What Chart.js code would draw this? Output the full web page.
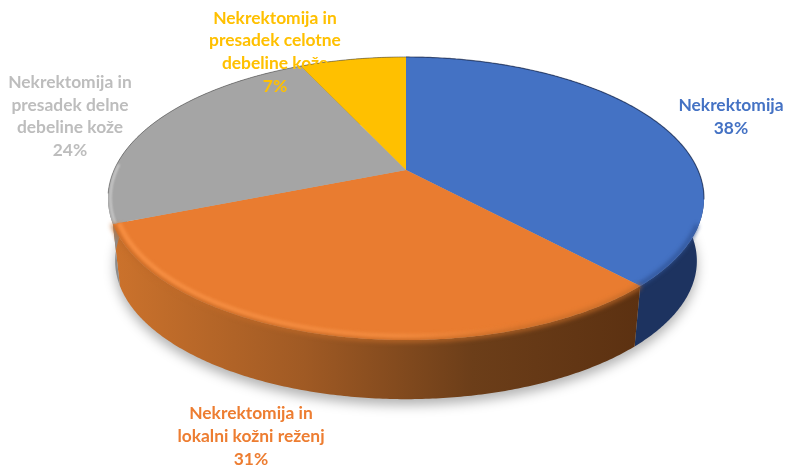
<!DOCTYPE html>
<html>
<head>
<meta charset="utf-8">
<style>html,body{margin:0;padding:0;background:#fff}canvas{display:block}</style>
<script src="https://cdn.jsdelivr.net/npm/chart.js@4"></script>
</head>
<body>
<canvas id="pie" width="786" height="465"></canvas>
<script>
// Share of each treatment, in percent
const categories = [
  ['Nekrektomija'],
  ['Nekrektomija in', 'lokalni kožni reženj'],
  ['Nekrektomija in', 'presadek delne', 'debeline kože'],
  ['Nekrektomija in', 'presadek celotne', 'debeline kože']
];
const shares = [38, 31, 24, 7];
const faceColors = ['#4472c4', '#e97c30', '#a5a5a5', '#ffc000'];
const textColors = ['#4472c4', '#ed7d31', '#bdbdbd', '#ffc000'];

// Centre of each label block on the page
const labelCentres = [[731, 117], [251, 436.5], [70, 116.5], [275, 52]];
const labelLeading = 22.7;

// Tilted disc: a homography from the unit circle to the page
const apex = { x: 406, y: 170 };
const tilt = { k: 0.2014, A: 291.9, B: 135.8 };
const rimCentreY = 198.5;
const baseCentreY = 261;
const baseScale = 0.976;

function rimPoint(a, r = 1) {
  const u = r * Math.cos(a), v = r * Math.sin(a), d = 1 - tilt.k * v;
  return [apex.x + tilt.A * u / d, apex.y + tilt.B * v / d];
}
function basePoint(a) {
  const p = rimPoint(a);
  return [apex.x + (p[0] - apex.x) * baseScale, baseCentreY + (p[1] - rimCentreY) * baseScale];
}
function samples(a0, a1) {
  const n = Math.max(2, Math.ceil(Math.abs(a1 - a0) / 0.01));
  return Array.from({ length: n + 1 }, (_, i) => a0 + (a1 - a0) * i / n);
}
function trace(ctx, pts, moveFirst = true) {
  pts.forEach((p, i) => (i === 0 && moveFirst ? ctx.moveTo(p[0], p[1]) : ctx.lineTo(p[0], p[1])));
}
function strokeArc(ctx, a0, a1, r, width, style, blur) {
  ctx.save();
  if (blur) ctx.filter = `blur(${blur}px)`;
  ctx.lineWidth = width;
  ctx.strokeStyle = style;
  ctx.lineCap = 'butt';
  ctx.beginPath();
  trace(ctx, samples(a0, a1).map(a => rimPoint(a, r)));
  ctx.stroke();
  ctx.restore();
}

const deg = Math.PI / 180;

const tiltedPie = {
  id: 'tiltedPie',
  // The arc elements supply each slice's angles; they are drawn here in tilted form
  beforeDatasetDraw(chart) {
    const ctx = chart.ctx;
    const arcs = chart.getDatasetMeta(0).data;

    // Soft ground shadow
    ctx.save();
    ctx.filter = 'blur(6px)';
    ctx.fillStyle = 'rgba(0,0,0,0.30)';
    ctx.translate(0, 6);
    ctx.beginPath();
    trace(ctx, samples(0, 2 * Math.PI).map(a => basePoint(a)));
    ctx.closePath();
    ctx.fill();
    ctx.restore();

    // Side wall of each slice
    const orangeWall = ctx.createLinearGradient(115, 0, 640, 0);
    orangeWall.addColorStop(0, '#cb722c');
    orangeWall.addColorStop(0.36, '#a05a24');
    orangeWall.addColorStop(0.68, '#6c3e19');
    orangeWall.addColorStop(1, '#5c3111');
    const walls = ['#1d3360', orangeWall, '#8c8c8c', '#a67c00'];
    arcs.forEach((arc, i) => {
      const sweep = samples(arc.startAngle, arc.endAngle);
      ctx.fillStyle = walls[i];
      ctx.beginPath();
      trace(ctx, sweep.map(a => rimPoint(a)));
      trace(ctx, sweep.slice().reverse().map(a => basePoint(a)), false);
      ctx.closePath();
      ctx.fill();
    });

    // Top faces
    arcs.forEach((arc, i) => {
      ctx.fillStyle = faceColors[i];
      ctx.beginPath();
      ctx.moveTo(apex.x, apex.y);
      trace(ctx, samples(arc.startAngle, arc.endAngle).map(a => rimPoint(a)), false);
      ctx.closePath();
      ctx.fill();
    });

    const [blue, orange, gray, yellow] = arcs;

    // Thin dark line around the far edge
    strokeArc(ctx, gray.startAngle + 12 * deg, yellow.endAngle, 1, 1, 'rgba(70,70,70,0.55)');
    strokeArc(ctx, blue.startAngle, 12 * deg, 1, 1.2, 'rgba(20,35,70,0.6)');
    strokeArc(ctx, gray.startAngle, gray.startAngle + 24 * deg, 0.992, 2, 'rgba(225,225,225,0.7)', 1);

    // Rounded lip where the faces meet the wall
    strokeArc(ctx, 22 * deg, blue.endAngle, 0.995, 3.5, '#2f5294', 2.2);
    strokeArc(ctx, orange.startAngle, orange.endAngle, 1.0, 4, '#c06a28', 2.6);
    const lip = ctx.createLinearGradient(115, 0, 520, 0);
    lip.addColorStop(0, 'rgba(246,142,66,1)');
    lip.addColorStop(0.7, 'rgba(244,140,64,0.85)');
    lip.addColorStop(1, 'rgba(244,140,64,0)');
    strokeArc(ctx, orange.startAngle, orange.endAngle, 0.98, 4.5, lip, 1.8);

    // Slice labels, drawn over the disc
    ctx.save();
    ctx.font = 'bold 17.4px Lato, sans-serif';
    ctx.textAlign = 'center';
    ctx.textBaseline = 'middle';
    arcs.forEach((arc, i) => {
      const lines = categories[i].concat(`${shares[i]}%`);
      const [x, y] = labelCentres[i];
      ctx.fillStyle = textColors[i];
      lines.forEach((line, j) => {
        ctx.fillText(line, x, y + (j - (lines.length - 1) / 2) * labelLeading);
      });
    });
    ctx.restore();
    return false;
  }
};

new Chart(document.getElementById('pie'), {
  type: 'pie',
  data: {
    labels: categories.map(lines => lines.join(' ')),
    datasets: [{ data: shares, backgroundColor: faceColors, borderWidth: 0 }]
  },
  options: {
    responsive: false,
    animation: false,
    plugins: { legend: { display: false }, tooltip: { enabled: false } }
  },
  plugins: [tiltedPie]
});
</script>
</body>
</html>
